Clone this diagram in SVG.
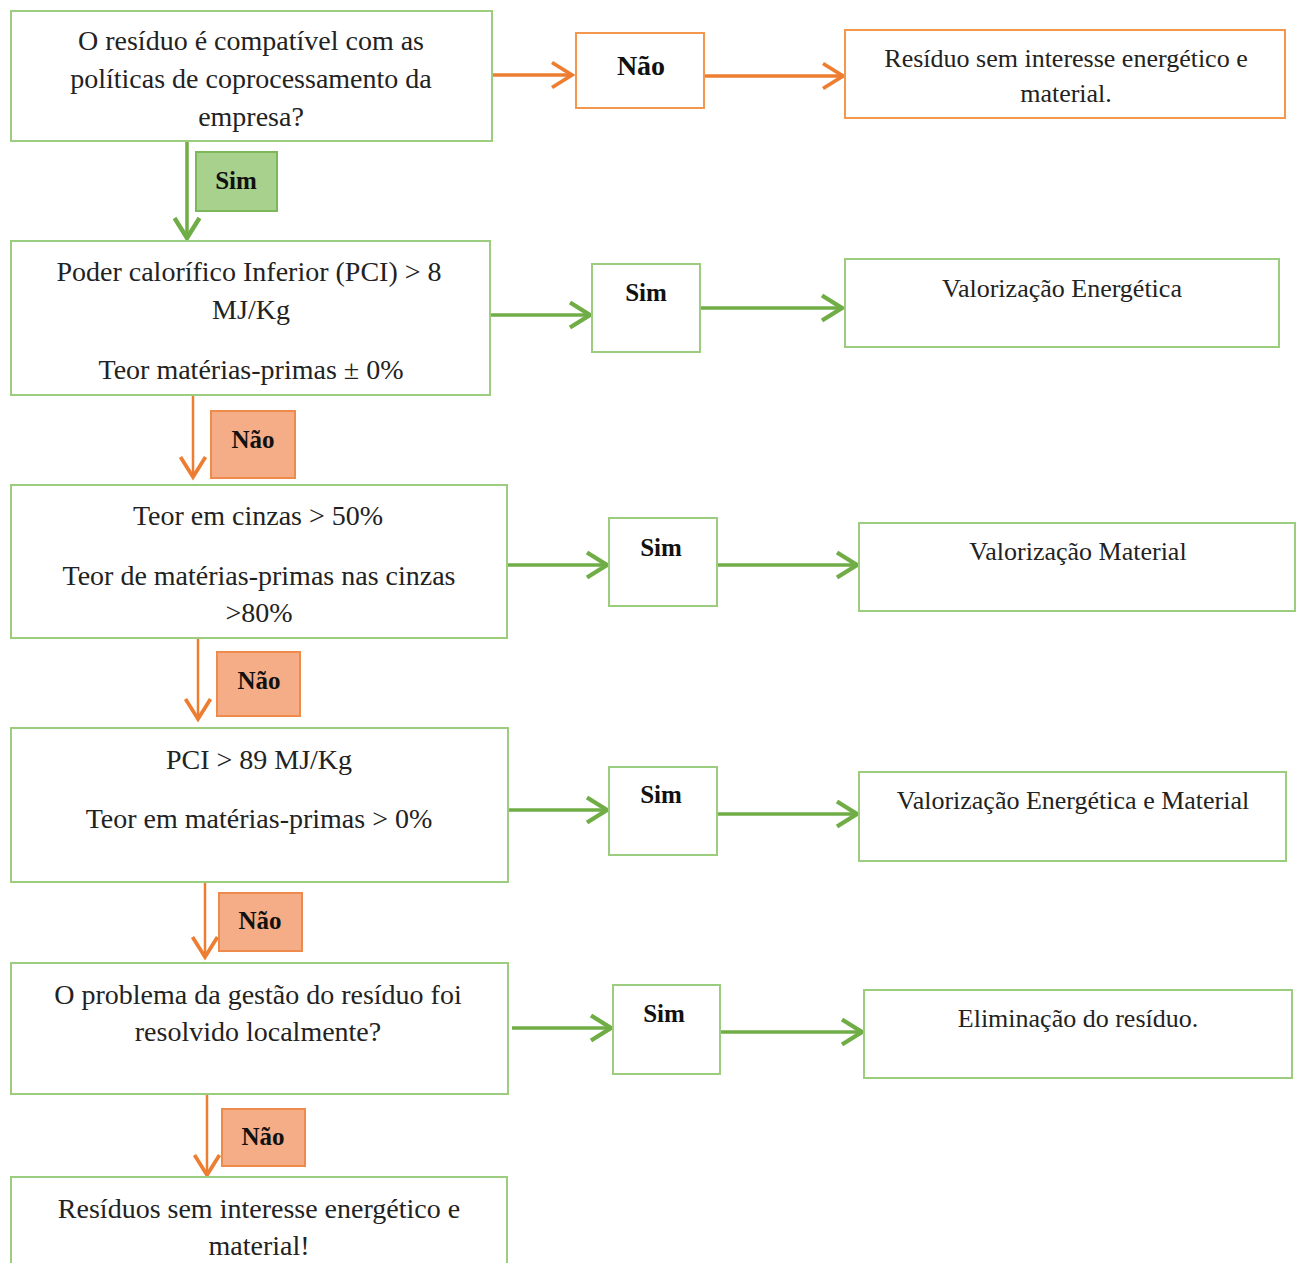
<svg xmlns="http://www.w3.org/2000/svg" width="1302" height="1263" viewBox="0 0 1302 1263">
<style>
.box{fill:#fff;stroke:#9ccc7e;stroke-width:2}
.obox{fill:#fff;stroke:#f3974f;stroke-width:2}
.slbl{fill:#a9d18e;stroke:#7cb85a;stroke-width:2}
.nlbl{fill:#f4ad86;stroke:#ee8a4c;stroke-width:2}
.t{font-family:"Liberation Serif",serif;font-size:28px;fill:#222;text-anchor:middle}
.tr{font-family:"Liberation Serif",serif;font-size:26px;fill:#222;text-anchor:middle}
.b{font-family:"Liberation Serif",serif;font-size:25px;font-weight:bold;fill:#111;text-anchor:middle}
.g{stroke:#70ad47;stroke-width:3.5;fill:none}
.o{stroke:#ed7d31;stroke-width:2.5;fill:none}
.og{stroke:#ed7d31;stroke-width:3.5;fill:none}
</style>
<defs>
<marker id="ag" markerUnits="userSpaceOnUse" markerWidth="30" markerHeight="30" refX="20" refY="12" orient="auto" viewBox="0 0 24 24">
<polyline points="4,2 20,12 4,22" fill="none" stroke="#70ad47" stroke-width="3.5"/>
</marker>
<marker id="ao" markerUnits="userSpaceOnUse" markerWidth="30" markerHeight="30" refX="20" refY="12" orient="auto" viewBox="0 0 24 24">
<polyline points="4,2 20,12 4,22" fill="none" stroke="#ed7d31" stroke-width="3"/>
</marker>
</defs>
<g id="connectors">
<line class="og" x1="492" y1="75" x2="572" y2="75" marker-end="url(#ao)"/>
<line class="og" x1="704" y1="76" x2="843" y2="76" marker-end="url(#ao)"/>
<line class="g" x1="187" y1="141" x2="187" y2="238" marker-end="url(#ag)"/>
<line class="g" x1="490" y1="315" x2="590" y2="315" marker-end="url(#ag)"/>
<line class="g" x1="700" y1="308" x2="842" y2="308" marker-end="url(#ag)"/>
<line class="o" x1="193" y1="395" x2="193" y2="477" marker-end="url(#ao)"/>
<line class="g" x1="507" y1="565" x2="607" y2="565" marker-end="url(#ag)"/>
<line class="g" x1="717" y1="565" x2="857" y2="565" marker-end="url(#ag)"/>
<line class="o" x1="198" y1="638" x2="198" y2="719" marker-end="url(#ao)"/>
<line class="g" x1="508" y1="810" x2="607" y2="810" marker-end="url(#ag)"/>
<line class="g" x1="717" y1="814" x2="857" y2="814" marker-end="url(#ag)"/>
<line class="o" x1="205" y1="882" x2="205" y2="957" marker-end="url(#ao)"/>
<line class="g" x1="512" y1="1028" x2="611" y2="1028" marker-end="url(#ag)"/>
<line class="g" x1="720" y1="1032" x2="862" y2="1032" marker-end="url(#ag)"/>
<line class="o" x1="207" y1="1094" x2="207" y2="1175" marker-end="url(#ao)"/>
</g>
<g id="q1">
<rect class="box" x="11" y="11" width="481" height="130"/>
<text class="t" x="251" y="50">O resíduo é compatível com as</text>
<text class="t" x="251" y="88">políticas de coprocessamento da</text>
<text class="t" x="251" y="126">empresa?</text>
</g>
<g id="nao1">
<rect class="obox" x="576" y="33" width="128" height="75"/>
<text class="b" x="641" y="75" style="font-size:28px">Não</text>
</g>
<g id="r1">
<rect class="obox" x="845" y="30" width="440" height="88"/>
<text class="tr" x="1066" y="67">Resíduo sem interesse energético e</text>
<text class="tr" x="1066" y="102">material.</text>
</g>
<g id="sim0">
<rect class="slbl" x="196" y="152" width="81" height="59"/>
<text class="b" x="236" y="189">Sim</text>
</g>
<g id="q2">
<rect class="box" x="11" y="241" width="479" height="154"/>
<text class="t" x="249" y="281">Poder calorífico Inferior (PCI) &gt; 8</text>
<text class="t" x="251" y="319">MJ/Kg</text>
<text class="t" x="251" y="379">Teor matérias-primas ± 0%</text>
</g>
<g id="sim1">
<rect class="box" x="592" y="264" width="108" height="88"/>
<text class="b" x="646" y="301">Sim</text>
</g>
<g id="r2">
<rect class="box" x="845" y="259" width="434" height="88"/>
<text class="tr" x="1062" y="297">Valorização Energética</text>
</g>
<g id="nao2">
<rect class="nlbl" x="211" y="411" width="84" height="67"/>
<text class="b" x="253" y="448">Não</text>
</g>
<g id="q3">
<rect class="box" x="11" y="485" width="496" height="153"/>
<text class="t" x="258" y="525">Teor em cinzas &gt; 50%</text>
<text class="t" x="259" y="585">Teor de matérias-primas nas cinzas</text>
<text class="t" x="259" y="622">&gt;80%</text>
</g>
<g id="sim2">
<rect class="box" x="609" y="518" width="108" height="88"/>
<text class="b" x="661" y="556">Sim</text>
</g>
<g id="r3">
<rect class="box" x="859" y="523" width="436" height="88"/>
<text class="tr" x="1078" y="560">Valorização Material</text>
</g>
<g id="nao3">
<rect class="nlbl" x="217" y="652" width="83" height="64"/>
<text class="b" x="259" y="689">Não</text>
</g>
<g id="q4">
<rect class="box" x="11" y="728" width="497" height="154"/>
<text class="t" x="259" y="769">PCI &gt; 89 MJ/Kg</text>
<text class="t" x="259" y="828">Teor em matérias-primas &gt; 0%</text>
</g>
<g id="sim3">
<rect class="box" x="609" y="767" width="108" height="88"/>
<text class="b" x="661" y="803">Sim</text>
</g>
<g id="r4">
<rect class="box" x="859" y="772" width="427" height="89"/>
<text class="tr" x="1073" y="809">Valorização Energética e Material</text>
</g>
<g id="nao4">
<rect class="nlbl" x="219" y="893" width="83" height="58"/>
<text class="b" x="260" y="929">Não</text>
</g>
<g id="q5">
<rect class="box" x="11" y="963" width="497" height="131"/>
<text class="t" x="258" y="1004">O problema da gestão do resíduo foi</text>
<text class="t" x="258" y="1041">resolvido localmente?</text>
</g>
<g id="sim4">
<rect class="box" x="613" y="985" width="107" height="89"/>
<text class="b" x="664" y="1022">Sim</text>
</g>
<g id="r5">
<rect class="box" x="864" y="990" width="428" height="88"/>
<text class="tr" x="1078" y="1027">Eliminação do resíduo.</text>
</g>
<g id="nao5">
<rect class="nlbl" x="222" y="1109" width="83" height="57"/>
<text class="b" x="263" y="1145">Não</text>
</g>
<g id="end">
<rect class="box" x="11" y="1177" width="496" height="100"/>
<text class="t" x="259" y="1218">Resíduos sem interesse energético e</text>
<text class="t" x="259" y="1255">material!</text>
</g>
</svg>
